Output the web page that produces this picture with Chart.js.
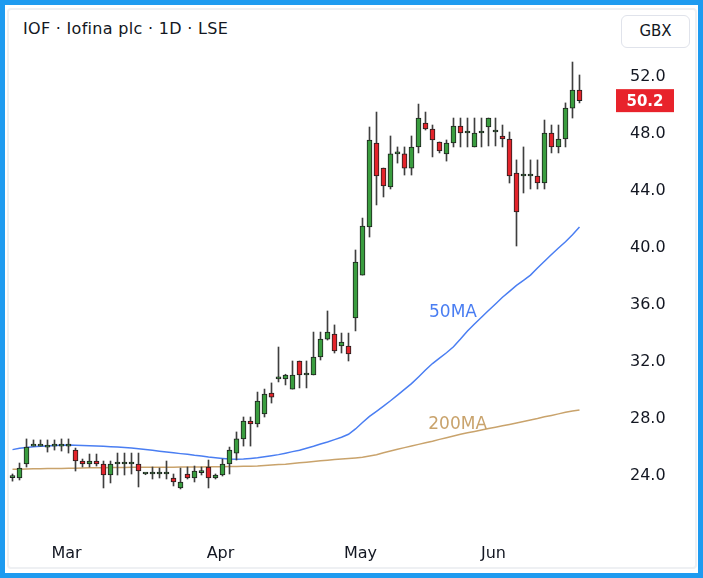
<!DOCTYPE html>
<html>
<head>
<meta charset="utf-8">
<script src="https://cdn.jsdelivr.net/npm/chart.js@4.4.1/dist/chart.umd.min.js"></script>
<style>
  html, body { margin: 0; padding: 0; }
  body { width: 703px; height: 578px; background: #1e9bf0; position: relative; overflow: hidden; font-family: "DejaVu Sans", sans-serif; }
  #frame { position: absolute; left: 5px; top: 5px; right: 5px; bottom: 5px; background: #fff; }
  #card { position: absolute; left: 7px; top: 8px; width: 686px; height: 557px; border: 2px solid #eef0f3; border-radius: 4px; background: #fff; }
  #title { position: absolute; left: 23px; top: 19px; font-size: 16px; letter-spacing: 0.3px; line-height: 20px; color: #131722; }
  #unit { position: absolute; left: 621px; top: 15px; width: 67px; height: 31px; border: 1px solid #e0e3eb; border-radius: 6px; text-align: center; line-height: 31px; font-size: 15px; color: #131722; background: #fff; }
  canvas { position: absolute; left: 0; top: 0; }
</style>
</head>
<body>
<div id="frame"></div>
<div id="card"></div>
<div id="title">IOF · Iofina plc · 1D · LSE</div>
<div id="unit">GBX</div>
<canvas id="chart" width="703" height="578"></canvas>
<script>
// Dados (um candle por pregão)
const opens = [23.75,23.72,24.70,25.96,25.96,25.89,25.96,25.96,25.96,25.68,
  24.91,24.70,24.91,24.70,23.93,24.70,24.70,24.70,24.70,24.00,
  24.00,24.00,24.00,23.72,23.02,24.00,23.72,24.10,24.49,23.72,
  23.93,24.70,25.47,26.46,27.72,27.51,28.21,29.68,30.67,30.67,
  29.96,31.93,30.95,30.95,32.21,33.47,33.82,32.98,32.98,34.95,
  37.96,41.33,47.23,45.47,44.14,46.46,46.46,45.47,46.95,48.63,
  48.21,47.30,46.46,47.23,48.42,47.93,46.95,47.93,48.35,48.00,
  47.72,47.51,45.12,44.91,44.91,44.91,44.42,47.93,46.95,47.51,
  49.68,50.95];
const highs = [24.00,24.77,26.46,26.39,26.39,26.39,26.39,26.46,26.46,25.82,
  25.05,25.40,25.40,24.91,24.91,25.47,25.47,25.47,25.47,24.05,
  24.49,24.42,24.91,24.00,24.42,24.49,24.56,24.49,24.98,24.00,
  25.05,25.89,26.95,28.00,28.00,29.75,29.96,30.39,32.91,31.00,
  31.93,31.93,31.93,33.96,33.96,35.44,34.46,33.89,33.89,39.72,
  41.96,48.35,49.40,45.47,47.72,46.95,46.95,47.72,49.96,49.40,
  48.49,47.30,47.44,48.98,48.98,48.98,48.98,48.98,48.98,48.98,
  48.49,48.00,46.04,46.95,46.04,46.04,48.84,48.49,48.49,50.04,
  52.91,52.00];
const lows = [23.50,23.58,24.49,25.96,25.96,25.54,25.68,25.61,25.47,24.21,
  24.49,24.49,24.56,23.02,23.37,23.93,23.93,24.00,23.09,23.95,
  23.65,23.72,23.65,23.16,22.95,23.65,23.44,23.93,23.02,23.65,
  23.86,24.00,24.98,25.96,25.96,27.30,28.00,28.98,30.46,30.25,
  29.96,30.04,30.04,30.95,32.00,33.40,32.49,32.49,31.93,34.04,
  37.96,40.63,42.88,43.44,44.00,45.82,44.98,44.98,46.53,48.14,
  46.25,46.53,45.96,46.95,46.95,46.95,46.95,46.95,47.02,47.02,
  46.95,44.42,40.00,43.72,44.00,44.00,44.00,46.53,46.53,46.95,
  48.98,50.04];
const closes = [23.75,24.42,25.89,25.96,25.96,26.03,25.96,25.96,25.96,24.91,
  24.70,24.91,24.70,23.93,24.70,24.70,24.70,24.70,24.21,24.00,
  24.00,24.00,24.00,23.44,23.44,23.72,24.21,24.10,23.72,23.93,
  24.70,25.68,26.46,27.72,27.51,29.12,29.61,29.40,30.67,30.95,
  30.95,30.95,30.95,32.21,33.47,33.96,32.63,33.26,32.42,38.88,
  41.40,47.44,44.91,44.21,46.46,46.46,45.47,46.95,48.98,48.21,
  47.44,46.67,47.23,48.42,47.93,47.93,47.93,47.93,48.98,48.00,
  47.51,44.91,42.39,44.91,44.91,44.42,47.93,46.95,47.51,49.68,
  50.95,50.20];
const ma50 = [25.71,25.80,25.86,25.92,25.94,25.97,26.00,26.02,26.04,26.02,
  26.00,25.99,25.97,25.95,25.92,25.89,25.86,25.83,25.78,25.72,
  25.66,25.60,25.54,25.49,25.43,25.38,25.31,25.26,25.19,25.14,
  25.09,25.05,25.03,25.05,25.09,25.14,25.21,25.28,25.36,25.46,
  25.57,25.67,25.81,25.95,26.11,26.25,26.41,26.58,26.79,27.16,
  27.61,28.04,28.40,28.76,29.14,29.54,29.94,30.34,30.81,31.30,
  31.75,32.13,32.51,32.93,33.47,34.04,34.53,35.00,35.47,35.93,
  36.40,36.82,37.24,37.59,37.96,38.46,38.93,39.40,39.86,40.30,
  40.79,41.33];
const ma200 = [24.34,24.34,24.35,24.36,24.37,24.38,24.39,24.39,24.40,24.41,
  24.42,24.43,24.44,24.44,24.45,24.46,24.46,24.47,24.47,24.47,
  24.48,24.48,24.48,24.48,24.49,24.49,24.49,24.49,24.50,24.51,
  24.51,24.52,24.53,24.54,24.55,24.56,24.59,24.63,24.67,24.69,
  24.74,24.79,24.83,24.88,24.93,24.97,25.01,25.05,25.09,25.13,
  25.18,25.26,25.35,25.49,25.61,25.73,25.85,25.96,26.08,26.19,
  26.30,26.43,26.55,26.67,26.79,26.90,26.99,27.09,27.19,27.28,
  27.38,27.48,27.58,27.68,27.79,27.89,28.01,28.11,28.22,28.33,
  28.42,28.49];

// Eixos
const monthTicks = [8, 30, 50, 69];
const monthLabels = ['Mar', 'Apr', 'May', 'Jun'];
const priceTicks = [24, 28, 32, 36, 40, 44, 48, 52];

const FONT = '"DejaVu Sans", sans-serif';
const UP = '#3a9d3f';
const DOWN = '#e3242b';

// Rótulos das médias e etiqueta do último preço
const overlay = {
  id: 'overlay',
  afterDraw(chart) {
    const {ctx, chartArea, scales: {x, y}} = chart;
    ctx.save();
    ctx.font = '17px ' + FONT;
    ctx.textAlign = 'left';
    ctx.textBaseline = 'middle';
    ctx.fillStyle = '#4a7ef2';
    ctx.fillText('50MA', x.getPixelForValue(59.5), y.getPixelForValue(35.35));
    ctx.fillStyle = '#c9a36c';
    ctx.fillText('200MA', x.getPixelForValue(59.4), y.getPixelForValue(27.5));

    const last = closes[closes.length - 1];
    const py = y.getPixelForValue(last);
    ctx.fillStyle = '#e8232b';
    ctx.fillRect(chartArea.right + 16, py - 11.5, 58, 23);
    ctx.fillStyle = '#fff';
    ctx.font = 'bold 15px ' + FONT;
    ctx.textAlign = 'center';
    ctx.fillText(last.toFixed(1), chartArea.right + 45, py + 1);
    ctx.restore();
  }
};

const ctx = document.getElementById('chart').getContext('2d');
new Chart(ctx, {
  type: 'bar',
  data: {
    datasets: [
      {
        type: 'line',
        data: ma50.map((v, i) => ({x: i, y: v})),
        borderColor: '#4a7ef2',
        borderWidth: 1.5,
        pointRadius: 0,
        order: 4
      },
      {
        type: 'line',
        data: ma200.map((v, i) => ({x: i, y: v})),
        borderColor: '#c9a36c',
        borderWidth: 1.5,
        pointRadius: 0,
        order: 3
      },
      {
        type: 'bar',
        data: highs.map((h, i) => ({x: i, y: [lows[i], h]})),
        backgroundColor: '#3f3f3f',
        barThickness: 1,
        grouped: false,
        order: 2
      },
      {
        type: 'bar',
        data: opens.map((o, i) => ({x: i, y: [o, closes[i]]})),
        backgroundColor: closes.map((c, i) => c >= opens[i] ? UP : DOWN),
        borderColor: '#1f1f1f',
        borderWidth: 1,
        borderSkipped: false,
        barThickness: 5,
        minBarLength: 2,
        grouped: false,
        order: 1
      }
    ]
  },
  options: {
    responsive: false,
    animation: false,
    events: [],
    layout: { padding: { left: 8, top: 50, right: 6, bottom: 8 } },
    plugins: {
      legend: { display: false },
      tooltip: { enabled: false }
    },
    scales: {
      x: {
        type: 'linear',
        min: -0.643,
        max: 83.93,
        offset: false,
        grid: { display: false, drawTicks: false },
        border: { display: false },
        afterBuildTicks: s => { s.ticks = monthTicks.map(v => ({value: v})); },
        afterFit: s => { s.height = 40; },
        ticks: {
          autoSkip: false,
          maxRotation: 0,
          padding: 14,
          labelOffset: -2,
          color: '#131722',
          font: { family: FONT, size: 16 },
          callback: v => monthLabels[monthTicks.indexOf(v)]
        }
      },
      y: {
        position: 'right',
        min: 20.07,
        max: 53.754,
        grid: { display: false, drawTicks: false },
        border: { display: false },
        afterBuildTicks: s => { s.ticks = priceTicks.map(v => ({value: v})); },
        afterFit: s => { s.width = 97; },
        ticks: {
          crossAlign: 'near',
          padding: 30,
          labelOffset: 2,
          color: '#131722',
          font: { family: FONT, size: 16 },
          callback: v => v.toFixed(1)
        }
      }
    }
  },
  plugins: [overlay]
});
</script>
</body>
</html>
